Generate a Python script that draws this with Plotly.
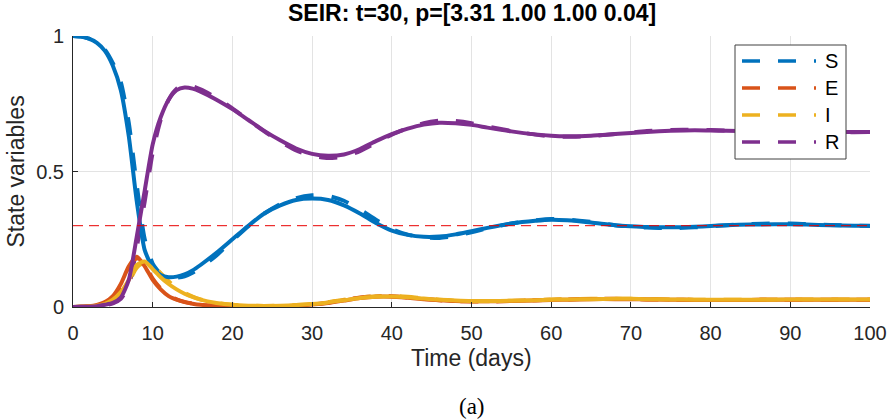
import plotly.graph_objects as go

# ---------------- data ----------------
t = [0, 1, 2, 3, 4, 5, 6, 7, 8, 9, 10, 11, 12, 13, 14, 15, 16, 18, 20, 22, 24, 26, 28, 30,
     32, 34, 36, 38, 40, 42, 44, 46, 48, 50, 52, 55, 58, 60, 62, 65, 68, 70, 72, 75, 78,
     80, 82, 85, 88, 90, 92, 95, 98, 100]

S_model = [1.0, 0.998, 0.99, 0.975, 0.945, 0.89, 0.80, 0.63, 0.39, 0.21, 0.145, 0.118, 0.11,
           0.112, 0.12, 0.135, 0.155, 0.20, 0.25, 0.30, 0.345, 0.375, 0.395, 0.40,
           0.395, 0.375, 0.345, 0.31, 0.282, 0.266, 0.259, 0.26, 0.268, 0.28, 0.292, 0.308,
           0.318, 0.322, 0.320, 0.312, 0.302, 0.298, 0.295, 0.294, 0.296,
           0.299, 0.302, 0.304, 0.305, 0.305, 0.304, 0.302, 0.300, 0.300]
E_model = [0.0, 0.001, 0.003, 0.008, 0.018, 0.04, 0.085, 0.15, 0.185, 0.15, 0.10, 0.065, 0.04,
           0.027, 0.018, 0.012, 0.008, 0.005, 0.003, 0.002, 0.002, 0.003, 0.005, 0.009,
           0.015, 0.024, 0.033, 0.038, 0.038, 0.034, 0.029, 0.025, 0.022, 0.021, 0.021, 0.022,
           0.024, 0.026, 0.027, 0.029, 0.029, 0.029, 0.028, 0.027, 0.026,
           0.026, 0.026, 0.026, 0.027, 0.027, 0.027, 0.027, 0.027, 0.027]
I_model = [0.0, 0.0005, 0.002, 0.005, 0.012, 0.027, 0.055, 0.10, 0.155, 0.168, 0.14, 0.11, 0.085,
           0.065, 0.049, 0.037, 0.027, 0.015, 0.008, 0.005, 0.004, 0.005, 0.007, 0.011,
           0.017, 0.025, 0.033, 0.038, 0.039, 0.036, 0.031, 0.027, 0.024, 0.022, 0.022, 0.023,
           0.025, 0.027, 0.028, 0.029, 0.030, 0.030, 0.029, 0.028, 0.027,
           0.027, 0.027, 0.027, 0.027, 0.028, 0.028, 0.028, 0.028, 0.028]
R_model = [0.0, 0.0005, 0.001, 0.003, 0.008, 0.015, 0.035, 0.10, 0.26, 0.43, 0.60, 0.70, 0.765,
           0.80, 0.81, 0.806, 0.795, 0.765, 0.73, 0.69, 0.65, 0.615, 0.585, 0.565,
           0.558, 0.563, 0.583, 0.612, 0.638, 0.658, 0.673, 0.68, 0.678, 0.672, 0.662, 0.648,
           0.637, 0.632, 0.630, 0.632, 0.638, 0.642, 0.646, 0.650, 0.652,
           0.651, 0.650, 0.648, 0.646, 0.646, 0.645, 0.645, 0.646, 0.646]

S_data = [1.0, 0.998, 0.99, 0.978, 0.95, 0.90, 0.83, 0.68, 0.45, 0.25, 0.16, 0.122, 0.112,
          0.108, 0.113, 0.126, 0.145, 0.19, 0.245, 0.298, 0.345, 0.38, 0.402, 0.412,
          0.41, 0.392, 0.36, 0.322, 0.288, 0.267, 0.257, 0.255, 0.262, 0.276, 0.29, 0.308,
          0.32, 0.325, 0.323, 0.314, 0.302, 0.297, 0.293, 0.291, 0.294,
          0.298, 0.302, 0.306, 0.308, 0.308, 0.306, 0.303, 0.300, 0.299]
E_data = [0.0, 0.001, 0.003, 0.007, 0.016, 0.036, 0.078, 0.14, 0.18, 0.155, 0.105, 0.068, 0.042,
          0.028, 0.019, 0.013, 0.009, 0.005, 0.003, 0.002, 0.002, 0.003, 0.005, 0.009,
          0.016, 0.026, 0.035, 0.040, 0.040, 0.036, 0.030, 0.025, 0.022, 0.020, 0.020, 0.022,
          0.025, 0.027, 0.028, 0.030, 0.030, 0.029, 0.028, 0.027, 0.026,
          0.026, 0.026, 0.026, 0.027, 0.027, 0.027, 0.027, 0.027, 0.027]
I_data = [0.0, 0.0005, 0.002, 0.004, 0.010, 0.024, 0.05, 0.092, 0.145, 0.165, 0.152, 0.125, 0.095,
          0.07, 0.052, 0.038, 0.028, 0.015, 0.008, 0.005, 0.004, 0.005, 0.007, 0.011,
          0.018, 0.027, 0.035, 0.040, 0.041, 0.038, 0.032, 0.027, 0.023, 0.021, 0.021, 0.023,
          0.026, 0.028, 0.029, 0.030, 0.030, 0.030, 0.029, 0.028, 0.027,
          0.027, 0.027, 0.027, 0.028, 0.028, 0.028, 0.028, 0.028, 0.028]
R_data = [0.0, 0.0005, 0.001, 0.003, 0.007, 0.013, 0.03, 0.08, 0.22, 0.39, 0.57, 0.69, 0.765,
          0.805, 0.818, 0.815, 0.803, 0.772, 0.733, 0.69, 0.648, 0.61, 0.578, 0.558,
          0.55, 0.555, 0.575, 0.606, 0.636, 0.66, 0.678, 0.688, 0.686, 0.678, 0.666, 0.65,
          0.636, 0.630, 0.628, 0.631, 0.638, 0.644, 0.649, 0.653, 0.654,
          0.653, 0.651, 0.648, 0.646, 0.645, 0.644, 0.644, 0.645, 0.646]

threshold = [0.3, 0.3]
threshold_t = [0, 100]

names = ["S", "E", "I", "R"]
colors = ["#0072BD", "#D95319", "#EDB120", "#7E2F8E"]

x_ticks = [0, 10, 20, 30, 40, 50, 60, 70, 80, 90, 100]
y_ticks = [0, 0.5, 1]
y_tick_labels = ["0", "0.5", "1"]

title_text = "SEIR: t=30, p=[3.31 1.00 1.00 0.04]"

SANS = "Liberation Sans"
SERIF = "Liberation Serif"
DASH = "18px,18px"

# ---------------- figure ----------------
fig = go.Figure()

data_series = [S_data, E_data, I_data, R_data]
model_series = [S_model, E_model, I_model, R_model]

for name, col, ys in zip(names, colors, data_series):
    fig.add_trace(go.Scatter(x=t, y=ys, mode="lines", name=name, showlegend=False,
                             line=dict(color=col, width=4, dash=DASH, shape="spline", smoothing=0.6)))
for name, col, ys in zip(names, colors, model_series):
    fig.add_trace(go.Scatter(x=t, y=ys, mode="lines", name=name + " model", showlegend=False,
                             line=dict(color=col, width=4, shape="spline", smoothing=0.6)))

fig.add_trace(go.Scatter(x=threshold_t, y=threshold, mode="lines", showlegend=False,
                         line=dict(color="#E80000", width=1, dash="10px,6px")))

# ---- legend box (drawn as decoration in paper coordinates) ----
W, H = 892, 419
ml, mr, mt, mb = 73, 22, 36, 112
pw, ph = W - ml - mr, H - mt - mb


def px_x(p):
    return (p - ml) / pw


def px_y(p):
    return (H - mb - p) / ph


shapes = [dict(type="rect", xref="paper", yref="paper",
               x0=px_x(735), x1=px_x(846), y0=px_y(159), y1=px_y(45),
               line=dict(color="#404040", width=1), fillcolor="white", layer="above")]
annotations = []
row_y = [61, 88, 115, 142]
for name, col, ry in zip(names, colors, row_y):
    shapes.append(dict(type="line", xref="paper", yref="paper",
                       x0=px_x(742), x1=px_x(816), y0=px_y(ry), y1=px_y(ry),
                       line=dict(color=col, width=3.5, dash=DASH), layer="above"))
    annotations.append(dict(text=name, xref="paper", yref="paper", x=px_x(823), y=px_y(ry),
                            xanchor="left", yanchor="middle", showarrow=False,
                            font=dict(family=SANS, size=20, color="black")))

annotations += [
    dict(text="Time (days)", x=0.5, xref="paper", y=px_y(358), yref="paper",
         showarrow=False, xanchor="center", yanchor="middle",
         font=dict(family=SANS, size=23, color="#262626")),
    dict(text="State variables", x=px_x(15), xref="paper", y=0.5, yref="paper",
         showarrow=False, textangle=-90, xanchor="center", yanchor="middle",
         font=dict(family=SANS, size=23, color="#262626")),
    dict(text="(a)", x=0.5, xref="paper", y=px_y(407), yref="paper",
         showarrow=False, xanchor="center", yanchor="middle",
         font=dict(family=SERIF, size=23, color="black")),
    dict(text="<b>" + title_text + "</b>", x=0.5, xref="paper", y=px_y(13), yref="paper",
         showarrow=False, xanchor="center", yanchor="middle",
         font=dict(family=SANS, size=23, color="black")),
]

axis_font = dict(family=SANS, size=20, color="#262626")

fig.update_layout(
    width=W, height=H,
    margin=dict(l=ml, r=mr, t=mt, b=mb, autoexpand=False),
    paper_bgcolor="white", plot_bgcolor="white",
    xaxis=dict(range=[0, 100], tickvals=x_ticks, ticks="inside", ticklen=5, tickcolor="#262626",
               showline=True, linecolor="#262626", linewidth=1, mirror=False,
               showgrid=True, gridcolor="#e3e3e3", gridwidth=1, zeroline=False,
               tickfont=axis_font, ticklabelstandoff=8, automargin=False),
    yaxis=dict(range=[0, 1], tickvals=y_ticks, ticktext=y_tick_labels, ticks="inside", ticklen=5,
               tickcolor="#262626",
               showline=True, linecolor="#262626", linewidth=1, mirror=False,
               showgrid=True, gridcolor="#e3e3e3", gridwidth=1, zeroline=False,
               tickfont=axis_font, ticklabelstandoff=4, automargin=False),
    showlegend=False,
    shapes=shapes,
    annotations=annotations,
)

fig.write_html("out.html")
